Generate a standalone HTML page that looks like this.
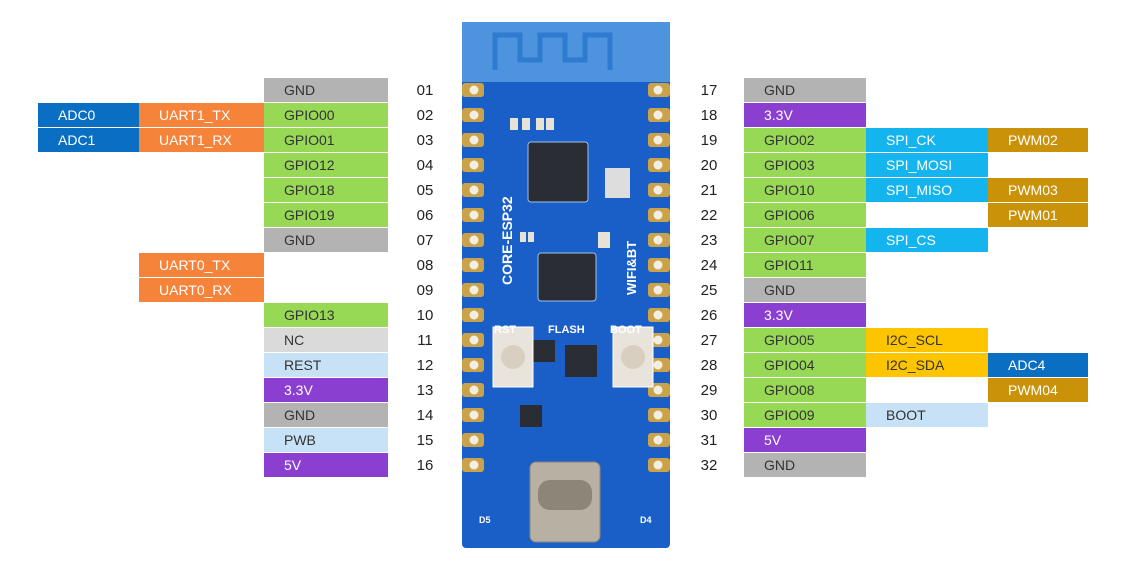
<!DOCTYPE html>
<html><head><meta charset="utf-8"><style>
body{margin:0;width:1140px;height:562px;background:#fff;position:relative;overflow:hidden;font-family:"Liberation Sans","DejaVu Sans",sans-serif}
.c{position:absolute;height:24px;line-height:25px;padding-left:20px;font-size:14px;box-sizing:border-box;color:#333}
.n{position:absolute;font-size:15px;color:#222;line-height:24px;width:40px;text-align:center}
.gn{background:#b3b3b3}.gr{background:#97d955}.bl{background:#0a6fc2;color:#fff}.or{background:#f5833a;color:#fff}
.pu{background:#8b3fd0;color:#fff}.lb{background:#c7e2f7}.nc{background:#dadada}.cy{background:#14b4ee;color:#fff}
.go{background:#c99208;color:#fff}.ye{background:#fdc500}
.L0{left:38px;width:101px}.L1{left:139px;width:125px}.L2{left:264px;width:124px}
.R0{left:744px;width:122px}.R1{left:866px;width:122px}.R2{left:988px;width:100px}
</style></head><body>
<div class="c L2 gn" style="top:78px">GND</div>
<div class="c L0 bl" style="top:103px">ADC0</div><div class="c L1 or" style="top:103px">UART1_TX</div><div class="c L2 gr" style="top:103px">GPIO00</div>
<div class="c L0 bl" style="top:128px">ADC1</div><div class="c L1 or" style="top:128px">UART1_RX</div><div class="c L2 gr" style="top:128px">GPIO01</div>
<div class="c L2 gr" style="top:153px">GPIO12</div>
<div class="c L2 gr" style="top:178px">GPIO18</div>
<div class="c L2 gr" style="top:203px">GPIO19</div>
<div class="c L2 gn" style="top:228px">GND</div>
<div class="c L1 or" style="top:253px">UART0_TX</div>
<div class="c L1 or" style="top:278px">UART0_RX</div>
<div class="c L2 gr" style="top:303px">GPIO13</div>
<div class="c L2 nc" style="top:328px">NC</div>
<div class="c L2 lb" style="top:353px">REST</div>
<div class="c L2 pu" style="top:378px">3.3V</div>
<div class="c L2 gn" style="top:403px">GND</div>
<div class="c L2 lb" style="top:428px">PWB</div>
<div class="c L2 pu" style="top:453px">5V</div>
<div class="n" style="left:405px;top:79px">01</div><div class="n" style="left:405px;top:104px">02</div><div class="n" style="left:405px;top:129px">03</div><div class="n" style="left:405px;top:154px">04</div><div class="n" style="left:405px;top:179px">05</div><div class="n" style="left:405px;top:204px">06</div><div class="n" style="left:405px;top:229px">07</div><div class="n" style="left:405px;top:254px">08</div><div class="n" style="left:405px;top:279px">09</div><div class="n" style="left:405px;top:304px">10</div><div class="n" style="left:405px;top:329px">11</div><div class="n" style="left:405px;top:354px">12</div><div class="n" style="left:405px;top:379px">13</div><div class="n" style="left:405px;top:404px">14</div><div class="n" style="left:405px;top:429px">15</div><div class="n" style="left:405px;top:454px">16</div>
<div class="n" style="left:689px;top:79px">17</div><div class="n" style="left:689px;top:104px">18</div><div class="n" style="left:689px;top:129px">19</div><div class="n" style="left:689px;top:154px">20</div><div class="n" style="left:689px;top:179px">21</div><div class="n" style="left:689px;top:204px">22</div><div class="n" style="left:689px;top:229px">23</div><div class="n" style="left:689px;top:254px">24</div><div class="n" style="left:689px;top:279px">25</div><div class="n" style="left:689px;top:304px">26</div><div class="n" style="left:689px;top:329px">27</div><div class="n" style="left:689px;top:354px">28</div><div class="n" style="left:689px;top:379px">29</div><div class="n" style="left:689px;top:404px">30</div><div class="n" style="left:689px;top:429px">31</div><div class="n" style="left:689px;top:454px">32</div>
<div class="c R0 gn" style="top:78px">GND</div>
<div class="c R0 pu" style="top:103px">3.3V</div>
<div class="c R0 gr" style="top:128px">GPIO02</div><div class="c R1 cy" style="top:128px">SPI_CK</div><div class="c R2 go" style="top:128px">PWM02</div>
<div class="c R0 gr" style="top:153px">GPIO03</div><div class="c R1 cy" style="top:153px">SPI_MOSI</div>
<div class="c R0 gr" style="top:178px">GPIO10</div><div class="c R1 cy" style="top:178px">SPI_MISO</div><div class="c R2 go" style="top:178px">PWM03</div>
<div class="c R0 gr" style="top:203px">GPIO06</div><div class="c R2 go" style="top:203px">PWM01</div>
<div class="c R0 gr" style="top:228px">GPIO07</div><div class="c R1 cy" style="top:228px">SPI_CS</div>
<div class="c R0 gr" style="top:253px">GPIO11</div>
<div class="c R0 gn" style="top:278px">GND</div>
<div class="c R0 pu" style="top:303px">3.3V</div>
<div class="c R0 gr" style="top:328px">GPIO05</div><div class="c R1 ye" style="top:328px">I2C_SCL</div>
<div class="c R0 gr" style="top:353px">GPIO04</div><div class="c R1 ye" style="top:353px">I2C_SDA</div><div class="c R2 bl" style="top:353px">ADC4</div>
<div class="c R0 gr" style="top:378px">GPIO08</div><div class="c R2 go" style="top:378px">PWM04</div>
<div class="c R0 gr" style="top:403px">GPIO09</div><div class="c R1 lb" style="top:403px">BOOT</div>
<div class="c R0 pu" style="top:428px">5V</div>
<div class="c R0 gn" style="top:453px">GND</div>
<svg style="position:absolute;left:0;top:0" width="1140" height="562">
<rect x="462" y="22" width="208" height="526" rx="4" fill="#1a5fc8"/>
<rect x="462" y="22" width="208" height="60" fill="#4d93dd"/>
<path d="M495 70 V35 H520 V60 H540 V35 H565 V60 H585 V35 H610 V70" fill="none" stroke="#2f7bd0" stroke-width="5"/>
<g fill="#c9a24a">
<rect x="462" y="83" width="22" height="14" rx="3"/><rect x="462" y="108" width="22" height="14" rx="3"/><rect x="462" y="133" width="22" height="14" rx="3"/><rect x="462" y="158" width="22" height="14" rx="3"/><rect x="462" y="183" width="22" height="14" rx="3"/><rect x="462" y="208" width="22" height="14" rx="3"/><rect x="462" y="233" width="22" height="14" rx="3"/><rect x="462" y="258" width="22" height="14" rx="3"/><rect x="462" y="283" width="22" height="14" rx="3"/><rect x="462" y="308" width="22" height="14" rx="3"/><rect x="462" y="333" width="22" height="14" rx="3"/><rect x="462" y="358" width="22" height="14" rx="3"/><rect x="462" y="383" width="22" height="14" rx="3"/><rect x="462" y="408" width="22" height="14" rx="3"/><rect x="462" y="433" width="22" height="14" rx="3"/><rect x="462" y="458" width="22" height="14" rx="3"/>
<rect x="648" y="83" width="22" height="14" rx="3"/><rect x="648" y="108" width="22" height="14" rx="3"/><rect x="648" y="133" width="22" height="14" rx="3"/><rect x="648" y="158" width="22" height="14" rx="3"/><rect x="648" y="183" width="22" height="14" rx="3"/><rect x="648" y="208" width="22" height="14" rx="3"/><rect x="648" y="233" width="22" height="14" rx="3"/><rect x="648" y="258" width="22" height="14" rx="3"/><rect x="648" y="283" width="22" height="14" rx="3"/><rect x="648" y="308" width="22" height="14" rx="3"/><rect x="648" y="333" width="22" height="14" rx="3"/><rect x="648" y="358" width="22" height="14" rx="3"/><rect x="648" y="383" width="22" height="14" rx="3"/><rect x="648" y="408" width="22" height="14" rx="3"/><rect x="648" y="433" width="22" height="14" rx="3"/><rect x="648" y="458" width="22" height="14" rx="3"/>
</g>
<g fill="#f2eee2">
<circle cx="474" cy="90" r="4.5"/><circle cx="474" cy="115" r="4.5"/><circle cx="474" cy="140" r="4.5"/><circle cx="474" cy="165" r="4.5"/><circle cx="474" cy="190" r="4.5"/><circle cx="474" cy="215" r="4.5"/><circle cx="474" cy="240" r="4.5"/><circle cx="474" cy="265" r="4.5"/><circle cx="474" cy="290" r="4.5"/><circle cx="474" cy="315" r="4.5"/><circle cx="474" cy="340" r="4.5"/><circle cx="474" cy="365" r="4.5"/><circle cx="474" cy="390" r="4.5"/><circle cx="474" cy="415" r="4.5"/><circle cx="474" cy="440" r="4.5"/><circle cx="474" cy="465" r="4.5"/>
<circle cx="658" cy="90" r="4.5"/><circle cx="658" cy="115" r="4.5"/><circle cx="658" cy="140" r="4.5"/><circle cx="658" cy="165" r="4.5"/><circle cx="658" cy="190" r="4.5"/><circle cx="658" cy="215" r="4.5"/><circle cx="658" cy="240" r="4.5"/><circle cx="658" cy="265" r="4.5"/><circle cx="658" cy="290" r="4.5"/><circle cx="658" cy="315" r="4.5"/><circle cx="658" cy="340" r="4.5"/><circle cx="658" cy="365" r="4.5"/><circle cx="658" cy="390" r="4.5"/><circle cx="658" cy="415" r="4.5"/><circle cx="658" cy="440" r="4.5"/><circle cx="658" cy="465" r="4.5"/>
</g>
<rect x="528" y="142" width="60" height="60" rx="3" fill="#2a2d33" stroke="#9cc0ee"/>
<rect x="538" y="253" width="58" height="48" rx="3" fill="#2a2d33" stroke="#9cc0ee"/>
<rect x="565" y="345" width="32" height="32" fill="#2a2d33"/>
<rect x="533" y="340" width="22" height="22" fill="#2a2d33"/>
<rect x="520" y="405" width="22" height="22" fill="#2a2d33"/>
<g fill="#e6e2d6"><rect x="510" y="118" width="8" height="12"/><rect x="522" y="118" width="8" height="12"/><rect x="536" y="118" width="8" height="12"/><rect x="546" y="118" width="8" height="12"/><rect x="520" y="232" width="6" height="10"/><rect x="528" y="232" width="6" height="10"/><rect x="598" y="232" width="12" height="16"/></g>
<rect x="493" y="327" width="40" height="60" fill="#e8e4dc" stroke="#fff"/><circle cx="513" cy="357" r="12" fill="#d8cfc0"/>
<rect x="613" y="327" width="40" height="60" fill="#e8e4dc" stroke="#fff"/><circle cx="633" cy="357" r="12" fill="#d8cfc0"/>
<rect x="605" y="168" width="25" height="30" fill="#ddd"/>
<rect x="530" y="462" width="70" height="80" rx="6" fill="#b8b1a3" stroke="#8d877c"/>
<rect x="538" y="480" width="54" height="30" rx="12" fill="#8c8578"/>
<g font-family="Liberation Sans,sans-serif" fill="#fff" font-weight="bold">
<text x="494" y="333" font-size="11">RST</text><text x="548" y="333" font-size="11">FLASH</text><text x="610" y="333" font-size="11">BOOT</text>
<text font-size="14" transform="translate(512,285) rotate(-90)">CORE-ESP32</text>
<text font-size="13" transform="translate(636,295) rotate(-90)">WIFI&amp;BT</text>
<text x="479" y="523" font-size="9">D5</text><text x="640" y="523" font-size="9">D4</text>
</g>
</svg>
</body></html>
